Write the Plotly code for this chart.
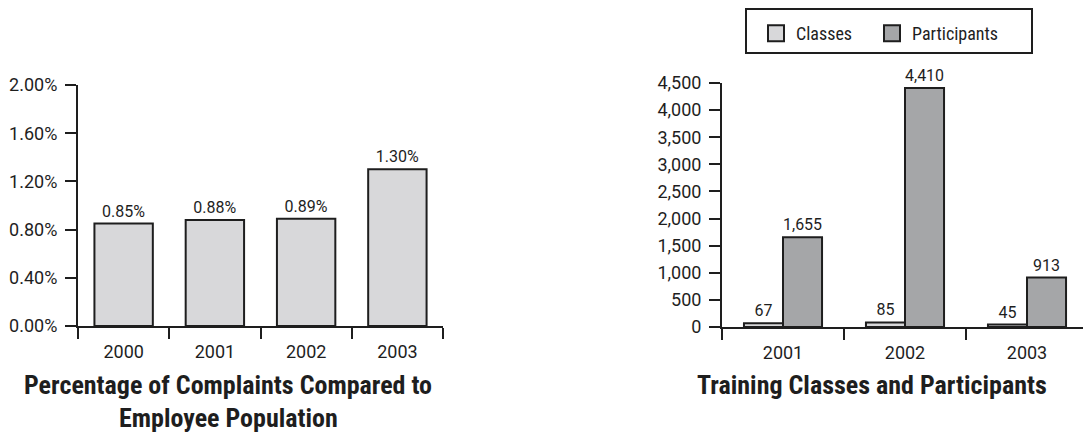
import plotly.graph_objects as go

# Complaints as a share of the employee population
complaint_years = ["2000", "2001", "2002", "2003"]
complaint_rates = [0.0085, 0.0088, 0.0089, 0.0130]

# Training activity
training_years = ["2001", "2002", "2003"]
classes = [67, 85, 45]
participants = [1655, 4410, 913]

W, H = 1083, 432
NUM_FONT = "Roboto, Liberation Sans, Arial, sans-serif"
WORD_FONT = "Roboto Condensed, Liberation Sans Narrow, DejaVu Sans Condensed, sans-serif"
INK = "#1e1e1e"
LIGHT = "#d8d8da"
DARK = "#a5a6a8"


def px_x(x):
    return x / W


def px_y(y):
    return 1 - y / H


fig = go.Figure()

fig.add_trace(go.Bar(
    x=complaint_years, y=complaint_rates,
    xaxis="x", yaxis="y", offsetgroup="rate",
    marker=dict(color=LIGHT, line=dict(color=INK, width=2)),
    texttemplate="%{y:.2%}", textposition="outside",
    textfont=dict(family=NUM_FONT, size=16, color=INK),
    cliponaxis=False, showlegend=False, hoverinfo="skip",
))

fig.add_trace(go.Bar(
    name="Classes", x=training_years, y=classes,
    xaxis="x2", yaxis="y2", offsetgroup="c",
    marker=dict(color=LIGHT, line=dict(color=INK, width=2)),
    texttemplate="%{y:,}", textposition="outside",
    textfont=dict(family=NUM_FONT, size=16, color=INK),
    cliponaxis=False, showlegend=False, hoverinfo="skip",
))
fig.add_trace(go.Bar(
    name="Participants", x=training_years, y=participants,
    xaxis="x2", yaxis="y2", offsetgroup="p",
    marker=dict(color=DARK, line=dict(color=INK, width=2)),
    texttemplate="%{y:,}", textposition="outside",
    textfont=dict(family=NUM_FONT, size=16, color=INK),
    cliponaxis=False, showlegend=False, hoverinfo="skip",
))

# Legend keys with larger square swatches, one legend per key
for name, colour, legend_id in [("Classes", LIGHT, "legend"),
                                ("Participants", DARK, "legend2")]:
    fig.add_trace(go.Scatter(
        name=name, x=[None], y=[None], mode="markers",
        xaxis="x2", yaxis="y2", legend=legend_id,
        marker=dict(symbol="square", size=16, color=colour,
                    line=dict(color=INK, width=2)),
        hoverinfo="skip",
    ))

axis_common = dict(
    showline=True, linecolor=INK, linewidth=2,
    ticks="outside", tickcolor=INK, tickwidth=1.5, ticklen=11,
    showgrid=False, zeroline=False, automargin=False,
    tickfont=dict(family=NUM_FONT, size=18, color=INK),
)
x_common = dict(axis_common, type="category", tickson="boundaries",
                ticklabelstandoff=8)
y_common = dict(axis_common, ticklabelstandoff=4)

legend_common = dict(
    orientation="h", xanchor="left", yanchor="top",
    bgcolor="rgba(0,0,0,0)", borderwidth=0,
    font=dict(family=WORD_FONT, size=18, color=INK),
)


def title_line(text, x, top, size):
    return dict(text=f"<b>{text}</b>", x=px_x(x), y=px_y(top),
                xref="paper", yref="paper", xanchor="center", yanchor="top",
                showarrow=False, font=dict(family=WORD_FONT, size=size, color=INK))


fig.update_layout(
    width=W, height=H,
    margin=dict(l=0, r=0, t=0, b=0, autoexpand=False),
    paper_bgcolor="white", plot_bgcolor="white",
    barmode="group", bargap=0.36, bargroupgap=0,
    xaxis=dict(x_common, domain=[px_x(78), px_x(443)], anchor="y",
               range=[-0.5, 3.5]),
    yaxis=dict(y_common, domain=[px_y(326), px_y(85)], anchor="x",
               range=[0, 0.02], tick0=0, dtick=0.004, tickformat=".2%"),
    xaxis2=dict(x_common, domain=[px_x(722), 1.0], anchor="y2",
                range=[-0.5, 2.5 - 5 / 122]),
    yaxis2=dict(y_common, domain=[px_y(327), px_y(83)], anchor="x2",
                range=[0, 4500], tick0=0, dtick=500, tickformat=","),
    legend=dict(legend_common, x=px_x(756), y=px_y(15)),
    legend2=dict(legend_common, x=px_x(872), y=px_y(15)),
    shapes=[dict(
        type="rect", xref="paper", yref="paper",
        x0=px_x(746), x1=px_x(1032), y0=px_y(53), y1=px_y(9),
        line=dict(color=INK, width=2), fillcolor="rgba(0,0,0,0)",
    )],
    annotations=[
        title_line("Percentage of Complaints Compared to", 228, 368, 26),
        title_line("Employee Population", 228, 401, 26),
        title_line("Training Classes and Participants", 872, 368, 26),
    ],
)

fig.write_html("out.html")
